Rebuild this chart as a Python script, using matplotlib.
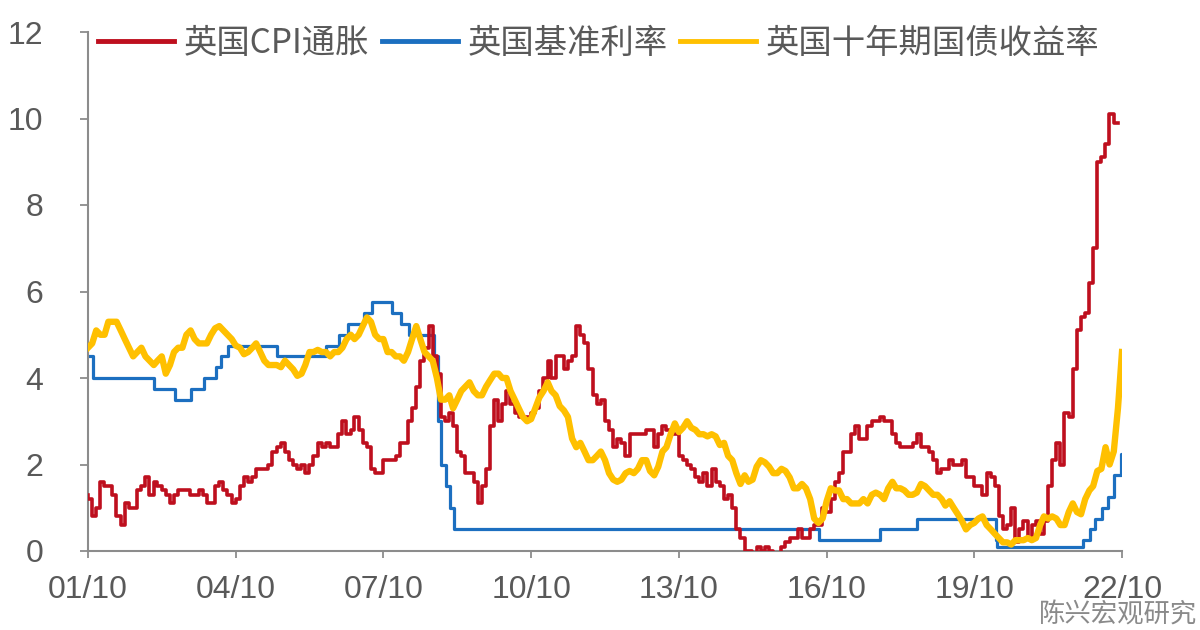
import matplotlib
matplotlib.use('Agg')
import matplotlib.pyplot as plt
import matplotlib.dates as mdates
import pandas as pd

# ---------------- data ----------------
series_names = ['英国CPI通胀', '英国基准利率', '英国十年期国债收益率']

# UK CPI y/y (%), monthly, Sep 2001 .. Aug 2022 (month-end)
cpi_start = '2001-09-30'
cpi_values = [
    1.3, 1.2, 0.8, 1.0,
    1.6, 1.5, 1.5, 1.3, 0.8, 0.6, 1.1, 1.0, 1.0, 1.4, 1.5, 1.7,   # 2002
    1.3, 1.6, 1.5, 1.4, 1.3, 1.1, 1.3, 1.4, 1.4, 1.4, 1.3, 1.3,   # 2003
    1.4, 1.3, 1.1, 1.1, 1.5, 1.6, 1.4, 1.3, 1.1, 1.2, 1.5, 1.7,   # 2004
    1.6, 1.7, 1.9, 1.9, 1.9, 2.0, 2.3, 2.4, 2.5, 2.3, 2.1, 2.0,   # 2005
    1.9, 2.0, 1.8, 2.0, 2.2, 2.5, 2.4, 2.5, 2.4, 2.4, 2.7, 3.0,   # 2006
    2.7, 2.8, 3.1, 2.8, 2.5, 2.4, 1.9, 1.8, 1.8, 2.1, 2.1, 2.1,   # 2007
    2.2, 2.5, 2.5, 3.0, 3.3, 3.8, 4.4, 4.7, 5.2, 4.5, 4.1, 3.1,   # 2008
    3.0, 3.2, 2.9, 2.3, 2.2, 1.8, 1.8, 1.6, 1.1, 1.5, 1.9, 2.9,   # 2009
    3.5, 3.0, 3.4, 3.7, 3.4, 3.2, 3.1, 3.1, 3.1, 3.2, 3.3, 3.7,   # 2010
    4.0, 4.4, 4.0, 4.5, 4.5, 4.2, 4.4, 4.5, 5.2, 5.0, 4.8, 4.2,   # 2011
    3.6, 3.4, 3.5, 3.0, 2.8, 2.4, 2.6, 2.5, 2.2, 2.7, 2.7, 2.7,   # 2012
    2.7, 2.8, 2.8, 2.4, 2.7, 2.9, 2.8, 2.7, 2.7, 2.2, 2.1, 2.0,   # 2013
    1.9, 1.7, 1.6, 1.8, 1.5, 1.9, 1.6, 1.5, 1.2, 1.3, 1.0, 0.5,   # 2014
    0.3, 0.0, 0.0, -0.1, 0.1, 0.0, 0.1, 0.0, -0.1, -0.1, 0.1, 0.2,  # 2015
    0.3, 0.3, 0.5, 0.3, 0.3, 0.5, 0.6, 0.6, 1.0, 0.9, 1.2, 1.6,   # 2016
    1.8, 2.3, 2.3, 2.7, 2.9, 2.6, 2.6, 2.9, 3.0, 3.0, 3.1, 3.0,   # 2017
    3.0, 2.7, 2.5, 2.4, 2.4, 2.4, 2.5, 2.7, 2.4, 2.4, 2.3, 2.1,   # 2018
    1.8, 1.9, 1.9, 2.1, 2.0, 2.0, 2.1, 1.7, 1.7, 1.5, 1.5, 1.3,   # 2019
    1.8, 1.7, 1.5, 0.8, 0.5, 0.6, 1.0, 0.2, 0.5, 0.7, 0.3, 0.6,   # 2020
    0.7, 0.4, 0.7, 1.5, 2.1, 2.5, 2.0, 3.2, 3.1, 4.2, 5.1, 5.4,   # 2021
    5.5, 6.2, 7.0, 9.0, 9.1, 9.4, 10.1, 9.9,                      # 2022
]

# Bank Rate (%), change dates and new levels
bank_dates = [
    '2001-10-01', '2001-11-08', '2003-02-06', '2003-07-10', '2003-11-06',
    '2004-02-05', '2004-05-06', '2004-06-10', '2004-08-05', '2005-08-04',
    '2006-08-03', '2006-11-09', '2007-01-11', '2007-05-10', '2007-07-05',
    '2007-12-06', '2008-02-07', '2008-04-10', '2008-10-08', '2008-11-06',
    '2008-12-04', '2009-01-08', '2009-02-05', '2009-03-05', '2016-08-04',
    '2017-11-02', '2018-08-02', '2020-03-11', '2020-03-19', '2021-12-16',
    '2022-02-03', '2022-03-17', '2022-05-05', '2022-06-16', '2022-08-04',
    '2022-09-22',
]
bank_rates = [
    4.5, 4.0, 3.75, 3.5, 3.75,
    4.0, 4.25, 4.5, 4.75, 4.5,
    4.75, 5.0, 5.25, 5.5, 5.75,
    5.5, 5.25, 5.0, 4.5, 3.0,
    2.0, 1.5, 1.0, 0.5, 0.25,
    0.5, 0.75, 0.25, 0.1, 0.25,
    0.5, 0.75, 1.0, 1.25, 1.75,
    2.25,
]
bank_end = '2022-10-01'

# UK 10Y gilt yield (%), monthly, Oct 2001 .. Oct 2022
gilt_start = '2001-10-01'
gilt_values = [
    4.7, 4.8, 5.1,
    5.0, 5.0, 5.3, 5.3, 5.3, 5.1, 4.9, 4.7, 4.5, 4.6, 4.7, 4.5,   # 2002
    4.4, 4.3, 4.4, 4.5, 4.1, 4.3, 4.6, 4.7, 4.7, 5.0, 5.1, 4.9,   # 2003
    4.8, 4.8, 4.8, 5.0, 5.15, 5.2, 5.1, 5.0, 4.9, 4.75, 4.7, 4.55,  # 2004
    4.6, 4.7, 4.8, 4.6, 4.4, 4.3, 4.3, 4.3, 4.25, 4.4, 4.3, 4.2,  # 2005
    4.05, 4.1, 4.3, 4.6, 4.6, 4.65, 4.6, 4.6, 4.5, 4.6, 4.6, 4.7,  # 2006
    4.9, 5.0, 4.9, 5.0, 5.2, 5.4, 5.3, 5.0, 4.9, 4.9, 4.6, 4.6,   # 2007
    4.5, 4.5, 4.4, 4.6, 4.9, 5.2, 4.9, 4.6, 4.5, 4.4, 4.0, 3.5,   # 2008
    3.5, 3.6, 3.3, 3.5, 3.7, 3.8, 3.9, 3.7, 3.6, 3.6, 3.8, 3.95,  # 2009
    4.1, 4.1, 4.0, 4.0, 3.7, 3.5, 3.3, 3.1, 3.0, 3.05, 3.3, 3.55,  # 2010
    3.7, 3.9, 3.7, 3.6, 3.35, 3.25, 3.1, 2.6, 2.4, 2.5, 2.3, 2.1,  # 2011
    2.1, 2.2, 2.3, 2.1, 1.8, 1.65, 1.6, 1.65, 1.8, 1.85, 1.8, 1.9,  # 2012
    2.1, 2.1, 1.85, 1.75, 1.95, 2.3, 2.4, 2.7, 2.95, 2.75, 2.85, 3.0,  # 2013
    2.85, 2.8, 2.7, 2.7, 2.65, 2.7, 2.65, 2.45, 2.5, 2.2, 2.1, 1.8,  # 2014
    1.55, 1.75, 1.6, 1.65, 1.95, 2.1, 2.05, 1.95, 1.8, 1.8, 1.9, 1.85,  # 2015
    1.7, 1.45, 1.45, 1.55, 1.45, 1.2, 0.75, 0.65, 0.75, 1.15, 1.45, 1.4,  # 2016
    1.4, 1.2, 1.2, 1.1, 1.1, 1.1, 1.2, 1.1, 1.3, 1.35, 1.3, 1.2,  # 2017
    1.45, 1.6, 1.45, 1.45, 1.4, 1.3, 1.3, 1.35, 1.55, 1.5, 1.4, 1.3,  # 2018
    1.3, 1.2, 1.05, 1.15, 1.0, 0.85, 0.7, 0.5, 0.6, 0.65, 0.75, 0.8,  # 2019
    0.6, 0.5, 0.4, 0.3, 0.2, 0.2, 0.15, 0.25, 0.25, 0.25, 0.3, 0.25,  # 2020
    0.3, 0.6, 0.8, 0.75, 0.8, 0.75, 0.6, 0.6, 0.9, 1.1, 0.9, 0.85,  # 2021
    1.2, 1.4, 1.5, 1.85, 1.9, 2.4, 2.0, 2.3, 3.3, 4.6,              # 2022
]

x_start, x_end = '2001-10-01', '2022-10-01'
tick_years = [2001, 2004, 2007, 2010, 2013, 2016, 2019, 2022]
y_ticks = [0, 2, 4, 6, 8, 10, 12]
watermark = '陈兴宏观研究'

# ---------------- plot ----------------
plt.rcParams['font.family'] = ['Liberation Sans', 'Noto Sans CJK SC', 'DejaVu Sans']

RED, BLUE, YELLOW = '#BE0F1E', '#1C6FC0', '#FFC000'
TXT, AX = '#595959', '#8C8C8C'

fig = plt.figure(figsize=(12, 6.3), dpi=100)
ax = fig.add_axes([88 / 1200, 1 - 551 / 630, 1034 / 1200, 519 / 630])

cpi_dates = pd.date_range(cpi_start, periods=len(cpi_values), freq='ME')
gilt_dates = pd.date_range(gilt_start, periods=len(gilt_values), freq='MS')
b_dates = pd.to_datetime(bank_dates + [bank_end])
b_rates = bank_rates + [bank_rates[-1]]

l1, = ax.plot(cpi_dates, cpi_values, color=RED, lw=2.6, drawstyle='steps-pre',
              label=series_names[0], zorder=3)
l2, = ax.plot(b_dates, b_rates, color=BLUE, lw=2.3, drawstyle='steps-post',
              label=series_names[1], zorder=2)
l3, = ax.plot(gilt_dates, gilt_values, color=YELLOW, lw=4.6,
              label=series_names[2], zorder=4, solid_joinstyle='round')

ax.set_xlim(pd.Timestamp(x_start), pd.Timestamp(x_end))
ax.set_ylim(0, 12)
ax.set_yticks(y_ticks)
ax.set_xticks([pd.Timestamp(f'{y}-10-01') for y in tick_years])
ax.xaxis.set_major_formatter(mdates.DateFormatter('%y/%m'))

for s in ['top', 'right']:
    ax.spines[s].set_visible(False)
for s in ['left', 'bottom']:
    ax.spines[s].set_color(AX)
    ax.spines[s].set_linewidth(1.5)

ax.tick_params(axis='y', direction='out', length=6, width=1.3, color=AX,
               labelsize=23, labelcolor=TXT, pad=26)
ax.tick_params(axis='x', direction='out', length=5, width=1.3, color=AX,
               labelsize=23, labelcolor=TXT, pad=12)

leg = ax.legend(handles=[l1, l2, l3], loc='center left',
                bbox_to_anchor=(10 / 1034, (551 - 43) / 519), ncol=3,
                frameon=False, borderpad=0, borderaxespad=0,
                handlelength=2.28, handletextpad=0.3, columnspacing=0.36,
                prop={'family': ['Noto Sans CJK SC'], 'size': 24})
for t in leg.get_texts():
    t.set_color(TXT)
for h in leg.legend_handles:
    h.set_linewidth(3.5)

fig.text(1197 / 1200, 1 - 629 / 630, watermark, ha='right', va='bottom',
         fontsize=19, color='#8a8a8a', family=['Noto Sans CJK SC'])

fig.savefig('out.png', dpi=100, facecolor='white')
